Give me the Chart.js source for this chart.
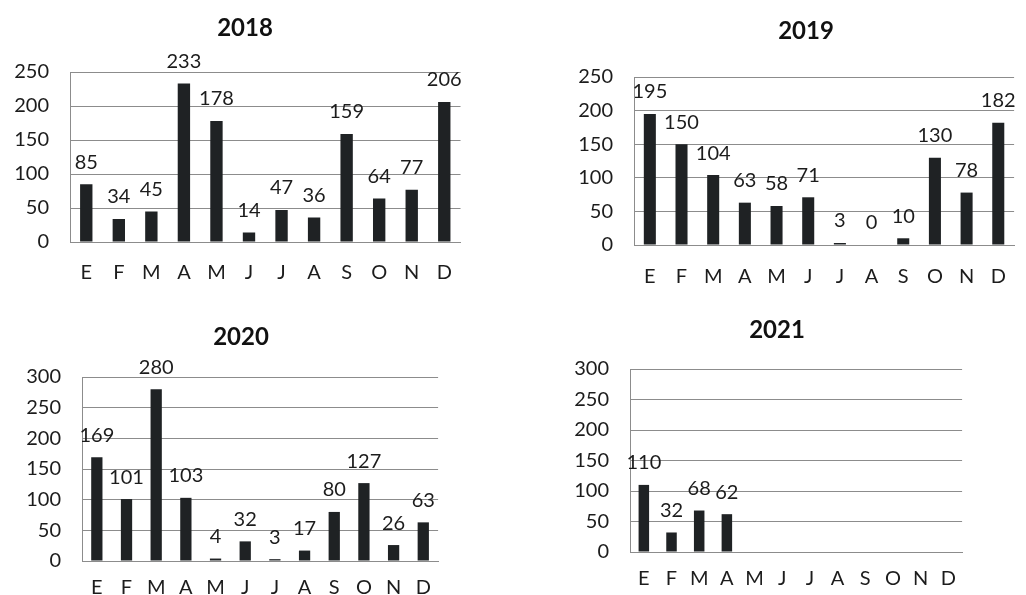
<!DOCTYPE html>
<html lang="es">
<head>
<meta charset="UTF-8">
<title>Casos por mes 2018 - 2021</title>
<script src="https://cdn.jsdelivr.net/npm/chart.js@4.4.1/dist/chart.umd.min.js"></script>
<style>
    html, body {
        margin: 0;
        padding: 0;
        width: 1026px;
        height: 595px;
        overflow: hidden;
        background: #ffffff;
        font-family: Lato, 'Open Sans', sans-serif;
    }
    .panel {
        position: absolute;
    }
    .panel-title {
        position: absolute;
        transform: translate(-50%, -50%);
        font-weight: bold;
        font-size: 24px;
        color: #111111;
        white-space: nowrap;
        z-index: 2;
    }
</style>
</head>
<body>
<script>
// months (spanish initials)
const months = ['E', 'F', 'M', 'A', 'M', 'J', 'J', 'A', 'S', 'O', 'N', 'D'];

const values2018 = [85, 34, 45, 233, 178, 14, 47, 36, 159, 64, 77, 206];
const values2019 = [195, 150, 104, 63, 58, 71, 3, 0, 10, 130, 78, 182];
const values2020 = [169, 101, 280, 103, 4, 32, 3, 17, 80, 127, 26, 63];
const values2021 = [110, 32, 68, 62, null, null, null, null, null, null, null, null];

const yMax2018 = 250;
const yMax2019 = 250;
const yMax2020 = 300;
const yMax2021 = 300;
const yStep = 50;

// layout of each small chart: plot box [left, top, right, bottom] and title centre, page px
const panels = [
    { year: '2018', values: values2018, yMax: yMax2018, plot: [70, 72, 468, 242], titleAt: [245, 26], xPad: 19 },
    { year: '2019', values: values2019, yMax: yMax2019, plot: [634, 77, 1023, 245], titleAt: [806, 29], xPad: 20 },
    { year: '2020', values: values2020, yMax: yMax2020, plot: [82, 377, 443, 561], titleAt: [241, 335], xPad: 15 },
    { year: '2021', values: values2021, yMax: yMax2021, plot: [630, 369, 968, 552], titleAt: [777, 328], xPad: 15 }
];

const TEXT = '#1c1c1c';
const BAR = '#1f2224';
const GRID = '#8c8c8c';
const FONT = { family: "Lato, 'Open Sans', sans-serif", size: 20 };
const Y_W = 65;   // y axis box width
const X_H = 45;   // x axis box height
const PAD_T = 40; // room for value labels above the plot
const PAD_R = 3;

// value written above every bar
const valueLabels = {
    id: 'valueLabels',
    afterDatasetsDraw(chart) {
        const ctx = chart.ctx;
        const ds = chart.data.datasets[0];
        ctx.save();
        ctx.font = FONT.size + 'px ' + FONT.family;
        ctx.fillStyle = TEXT;
        ctx.textAlign = 'center';
        ctx.textBaseline = 'middle';
        chart.getDatasetMeta(0).data.forEach((bar, i) => {
            const v = ds.data[i];
            if (v === null || v === undefined) return;
            ctx.fillText(String(v), bar.x, bar.y - 22);
        });
        ctx.restore();
    }
};

panels.forEach(p => {
    const [l, t, r, b] = p.plot;
    const left = l - Y_W;
    const top = t - PAD_T;
    const width = r + PAD_R - left;
    const height = b + X_H - top;

    const div = document.createElement('div');
    div.className = 'panel';
    div.style.left = left + 'px';
    div.style.top = top + 'px';
    const canvas = document.createElement('canvas');
    canvas.width = width;
    canvas.height = height;
    div.appendChild(canvas);
    document.body.appendChild(div);

    const title = document.createElement('div');
    title.className = 'panel-title';
    title.textContent = p.year;
    title.style.left = p.titleAt[0] + 'px';
    title.style.top = p.titleAt[1] + 'px';
    document.body.appendChild(title);

    new Chart(canvas.getContext('2d'), {
        type: 'bar',
        data: {
            labels: months,
            datasets: [{
                data: p.values,
                backgroundColor: BAR,
                barPercentage: 0.38,
                categoryPercentage: 1
            }]
        },
        options: {
            responsive: false,
            animation: false,
            events: [],
            layout: { padding: { left: 0, top: PAD_T, right: PAD_R, bottom: 0 } },
            plugins: {
                legend: { display: false },
                tooltip: { enabled: false },
                title: { display: false }
            },
            scales: {
                x: {
                    grid: { display: false, drawTicks: false },
                    border: { display: true, color: GRID },
                    ticks: { color: TEXT, font: FONT, padding: p.xPad, autoSkip: false, maxRotation: 0 },
                    afterFit: s => { s.height = X_H; }
                },
                y: {
                    min: 0,
                    max: p.yMax,
                    grid: { color: GRID, drawTicks: false },
                    border: { display: true, color: GRID },
                    ticks: { stepSize: yStep, color: TEXT, font: FONT, padding: 21 },
                    afterFit: s => { s.width = Y_W; }
                }
            }
        },
        plugins: [valueLabels]
    });
});
</script>
</body>
</html>
